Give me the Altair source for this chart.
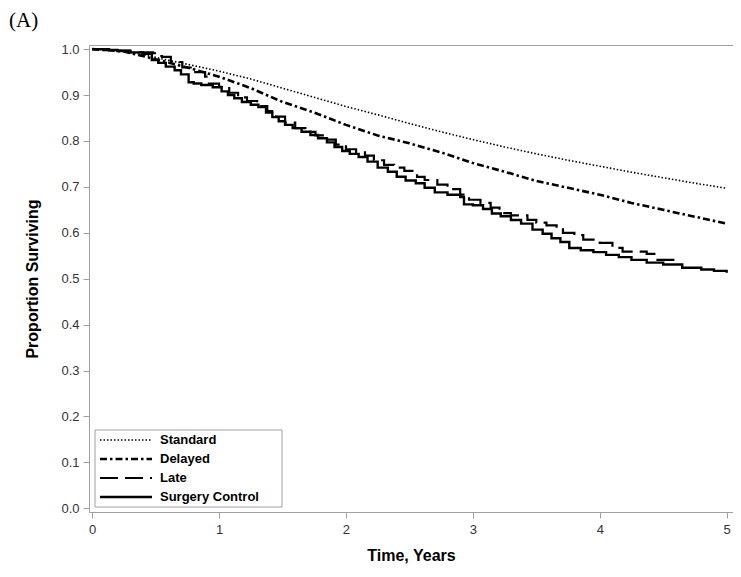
import altair as alt
import pandas as pd

# ---- data ----
groups = ["Standard", "Delayed", "Late", "Surgery Control"]

std_t = [0, 0.25, 0.5, 0.75, 1.0, 1.25, 1.5, 1.75, 2.0, 2.25, 2.5, 2.75, 3.0, 3.25, 3.5, 3.75, 4.0, 4.25, 4.5, 4.75, 5.0]
std_s = [1.0, 0.997, 0.982, 0.967, 0.952, 0.935, 0.915, 0.895, 0.875, 0.857, 0.838, 0.82, 0.803, 0.787, 0.772, 0.758, 0.745, 0.732, 0.72, 0.708, 0.697]

del_t = [0, 0.25, 0.5, 0.75, 1.0, 1.25, 1.5, 1.75, 2.0, 2.25, 2.5, 2.75, 3.0, 3.25, 3.5, 3.75, 4.0, 4.25, 4.5, 4.75, 5.0]
del_s = [1.0, 0.995, 0.978, 0.96, 0.94, 0.915, 0.885, 0.862, 0.835, 0.812, 0.795, 0.775, 0.752, 0.733, 0.713, 0.698, 0.683, 0.665, 0.65, 0.635, 0.62]

late_t = [0, 0.15, 0.3, 0.48, 0.52, 0.55, 0.62, 0.71, 0.8, 0.89, 0.92, 1.0, 1.08, 1.15, 1.22, 1.3, 1.38, 1.45, 1.52, 1.6,
          1.68, 1.76, 1.84, 1.92, 2.0, 2.08, 2.15, 2.22, 2.3, 2.38, 2.46, 2.56, 2.62, 2.72, 2.8, 2.9, 2.97, 3.06, 3.14, 3.21,
          3.3, 3.43, 3.5, 3.58, 3.66, 3.71, 3.8, 3.87, 4.0, 4.1, 4.18, 4.37, 4.43, 4.63]
late_s = [1.0, 0.997, 0.993, 0.991, 0.985, 0.983, 0.972, 0.96, 0.95, 0.94, 0.925, 0.918, 0.905, 0.895, 0.887, 0.876, 0.865, 0.853, 0.84, 0.828,
          0.82, 0.812, 0.803, 0.792, 0.782, 0.775, 0.768, 0.758, 0.748, 0.742, 0.735, 0.722, 0.715, 0.705, 0.695, 0.683, 0.672, 0.665, 0.655, 0.643,
          0.638, 0.628, 0.622, 0.616, 0.611, 0.6, 0.595, 0.585, 0.578, 0.567, 0.559, 0.554, 0.541, 0.539]

sc_t = [0, 0.1, 0.2, 0.3, 0.4, 0.47, 0.52, 0.58, 0.65, 0.7, 0.76, 0.8, 0.86, 0.95, 1.02, 1.07, 1.12, 1.18, 1.25, 1.31,
        1.37, 1.42, 1.47, 1.52, 1.58, 1.65, 1.72, 1.78, 1.85, 1.91, 1.97, 2.03, 2.1, 2.17, 2.25, 2.33, 2.4, 2.47, 2.55, 2.62,
        2.7, 2.8, 2.9, 2.93, 3.0, 3.08, 3.15, 3.22, 3.3, 3.38, 3.47, 3.55, 3.62, 3.69, 3.76, 3.85, 3.95, 4.05, 4.15, 4.25,
        4.37, 4.5, 4.65, 4.8, 4.9, 5.0]
sc_s = [1.0, 0.998, 0.996, 0.993, 0.99, 0.976, 0.97, 0.962, 0.954, 0.945, 0.928, 0.925, 0.922, 0.917, 0.908, 0.9, 0.893, 0.885, 0.879, 0.874,
        0.862, 0.852, 0.843, 0.835, 0.828, 0.82, 0.813, 0.806, 0.797, 0.787, 0.778, 0.772, 0.765, 0.755, 0.742, 0.733, 0.722, 0.714, 0.708, 0.698,
        0.688, 0.683, 0.678, 0.662, 0.66, 0.652, 0.642, 0.636, 0.628, 0.62, 0.607, 0.598, 0.588, 0.58, 0.567, 0.562, 0.558, 0.552, 0.547, 0.541,
        0.535, 0.531, 0.524, 0.52, 0.517, 0.513]

x_ticks = [0, 1, 2, 3, 4, 5]
y_ticks = [0.0, 0.1, 0.2, 0.3, 0.4, 0.5, 0.6, 0.7, 0.8, 0.9, 1.0]

# ---- styles ----
dashes = {"Standard": [1.5, 2], "Delayed": [7, 3, 2.5, 3], "Late": [18, 7], "Surgery Control": [1, 0]}
widths = {"Standard": 1.6, "Delayed": 2.6, "Late": 2.2, "Surgery Control": 2.4}

def df(t, s, g):
    return pd.DataFrame({"t": t, "s": s, "group": g})

xs = alt.Scale(domain=[-0.025, 5.05], nice=False, zero=False)
ys = alt.Scale(domain=[-0.008, 1.009], nice=False, zero=False)

FONT = "Liberation Sans"
GRAY = "#a0a0a0"

def curve(t, s, g, interp):
    return alt.Chart(df(t, s, g)).mark_line(
        color="black", strokeWidth=widths[g], strokeDash=dashes[g], interpolate=interp, clip=True
    ).encode(
        x=alt.X("t:Q", scale=xs, axis=alt.Axis(values=x_ticks, title="Time, Years", format="d")),
        y=alt.Y("s:Q", scale=ys, axis=alt.Axis(values=y_ticks, title="Proportion Surviving", format=".1f")),
        order="t:Q",
    )

layers = [
    curve(std_t, std_s, "Standard", "linear"),
    curve(del_t, del_s, "Delayed", "linear"),
    curve(late_t, late_s, "Late", "step-after"),
    curve(sc_t, sc_s, "Surgery Control", "step-after"),
]

# legend box
box = alt.Chart(pd.DataFrame({"k": [0]})).mark_rect(fill="white", stroke=GRAY, strokeWidth=1).encode(
    x=alt.value(6), x2=alt.value(193), y=alt.value(385), y2=alt.value(462)
)
legend_layers = [box]
for i, g in enumerate(groups):
    yy = 395 + 19 * i
    d = pd.DataFrame({"label": [g]})
    legend_layers.append(
        alt.Chart(d).mark_rule(color="black", strokeWidth=widths[g], strokeDash=dashes[g]).encode(
            x=alt.value(11), x2=alt.value(63), y=alt.value(yy)
        )
    )
    legend_layers.append(
        alt.Chart(d).mark_text(align="left", baseline="middle", font=FONT, fontSize=13, fontWeight="bold", color="black").encode(
            x=alt.value(71), y=alt.value(yy), text="label:N"
        )
    )

label_a = alt.Chart(pd.DataFrame({"k": ["(A)"]})).mark_text(
    align="left", baseline="alphabetic", font="Liberation Serif", fontSize=21, color="black"
).encode(x=alt.value(-80), y=alt.value(-18), text="k:N")

chart = alt.layer(*layers, *legend_layers, label_a).properties(
    width=644, height=467,
    autosize=alt.AutoSizeParams(type="none"),
    padding={"left": 81, "top": 37, "right": 0, "bottom": 58},
).configure_view(
    stroke=GRAY, strokeWidth=1
).configure_axis(
    domain=False, grid=False, tickColor=GRAY, tickSize=6, tickWidth=1,
    labelFont=FONT, labelFontSize=13, labelColor="#333333", labelPadding=4,
    titleFont=FONT, titleFontSize=16, titleFontWeight="bold", titleColor="black",
).configure_axisX(titlePadding=11, labelPadding=5).configure_axisY(titlePadding=20)

chart.save("out.html", embed_options={"renderer": "svg", "actions": False})
